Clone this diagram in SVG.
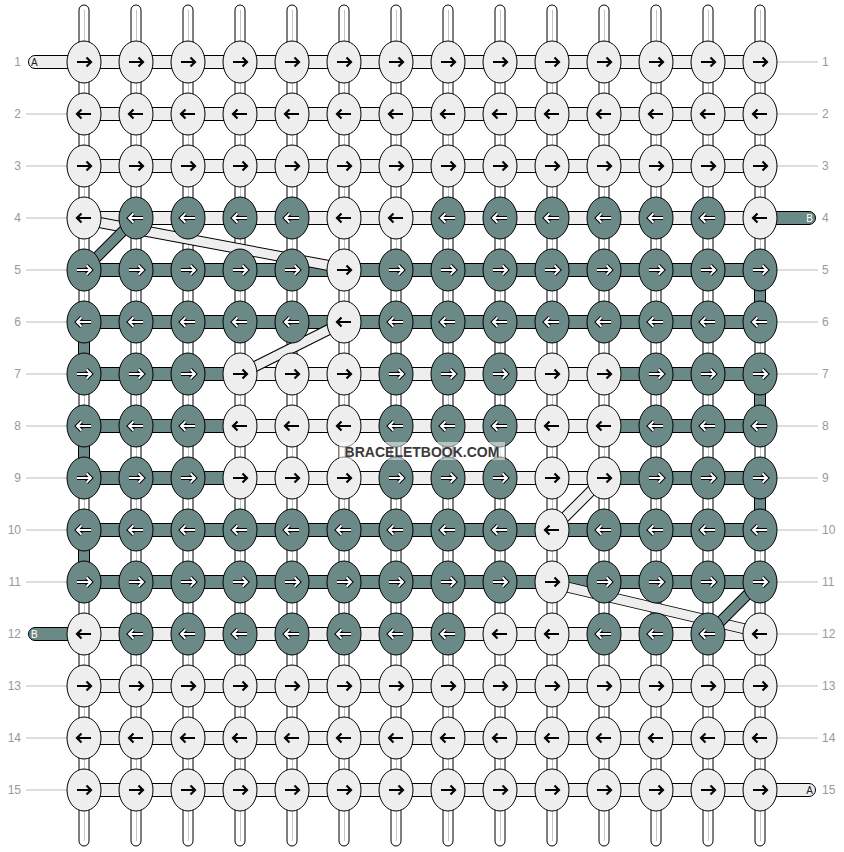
<svg xmlns="http://www.w3.org/2000/svg" xmlns:xlink="http://www.w3.org/1999/xlink" width="844" height="852" viewBox="0 0 844 852">
<style>
.vs{fill:#fff;stroke:#000;stroke-width:1}
.vc{stroke:#c4c4c4;stroke-width:1}
.hl{fill:#eeeeee;stroke:#000;stroke-width:1}
.hd{fill:#6b8a87;stroke:#000;stroke-width:1}
ellipse{rx:17px;ry:21px;stroke:#000;stroke-width:1}
.L{fill:#eeeeee}
.D{fill:#6b8a87}
.lbl{font-family:"Liberation Sans",Arial,sans-serif;font-size:12px;fill:#999}
.gl{stroke:#bbb;stroke-width:1}
.bo{stroke:#000;stroke-width:11}
.bl{stroke:#eeeeee;stroke-width:9}
.bd{stroke:#6b8a87;stroke-width:9}
.ltr{font-family:"Liberation Sans",Arial,sans-serif;font-size:10px}
</style>
<defs>
<g id="aR"><path d="M-7,0H6.5M2.5,-4.5L7,0L2.5,4.5" fill="none" stroke="#000" stroke-width="2.2"/></g>
<g id="aL"><path d="M7,0H-6.5M-2.5,-4.5L-7,0L-2.5,4.5" fill="none" stroke="#000" stroke-width="2.2"/></g>
<g id="wR"><path d="M-7,0H6.5M2.5,-4.5L7,0L2.5,4.5" fill="none" stroke="#000" stroke-width="4"/><path d="M-7,0H6.5M2.5,-4.5L7,0L2.5,4.5" fill="none" stroke="#fff" stroke-width="2"/></g>
<g id="wL"><path d="M7,0H-6.5M-2.5,-4.5L-7,0L-2.5,4.5" fill="none" stroke="#000" stroke-width="4"/><path d="M7,0H-6.5M-2.5,-4.5L-7,0L-2.5,4.5" fill="none" stroke="#fff" stroke-width="2"/></g>
</defs>
<rect width="844" height="852" fill="#fff"/>
<g id="labels">
<line class="gl" x1="26" y1="114" x2="84" y2="114"/><line class="gl" x1="26" y1="166" x2="84" y2="166"/><line class="gl" x1="26" y1="218" x2="84" y2="218"/><line class="gl" x1="26" y1="270" x2="84" y2="270"/><line class="gl" x1="26" y1="322" x2="84" y2="322"/><line class="gl" x1="26" y1="374" x2="84" y2="374"/><line class="gl" x1="26" y1="426" x2="84" y2="426"/><line class="gl" x1="26" y1="478" x2="84" y2="478"/><line class="gl" x1="26" y1="530" x2="84" y2="530"/><line class="gl" x1="26" y1="582" x2="84" y2="582"/><line class="gl" x1="26" y1="686" x2="84" y2="686"/><line class="gl" x1="26" y1="738" x2="84" y2="738"/><line class="gl" x1="26" y1="790" x2="84" y2="790"/>
<line class="gl" x1="760" y1="62" x2="818" y2="62"/><line class="gl" x1="760" y1="114" x2="818" y2="114"/><line class="gl" x1="760" y1="166" x2="818" y2="166"/><line class="gl" x1="760" y1="270" x2="818" y2="270"/><line class="gl" x1="760" y1="322" x2="818" y2="322"/><line class="gl" x1="760" y1="374" x2="818" y2="374"/><line class="gl" x1="760" y1="426" x2="818" y2="426"/><line class="gl" x1="760" y1="478" x2="818" y2="478"/><line class="gl" x1="760" y1="530" x2="818" y2="530"/><line class="gl" x1="760" y1="582" x2="818" y2="582"/><line class="gl" x1="760" y1="634" x2="818" y2="634"/><line class="gl" x1="760" y1="686" x2="818" y2="686"/><line class="gl" x1="760" y1="738" x2="818" y2="738"/>
<g class="lbl" text-anchor="end">
<text x="21" y="66">1</text><text x="21" y="118">2</text><text x="21" y="170">3</text><text x="21" y="222">4</text><text x="21" y="274">5</text><text x="21" y="326">6</text><text x="21" y="378">7</text><text x="21" y="430">8</text><text x="21" y="482">9</text><text x="21" y="534">10</text><text x="21" y="586">11</text><text x="21" y="638">12</text><text x="21" y="690">13</text><text x="21" y="742">14</text><text x="21" y="794">15</text>
</g>
<g class="lbl">
<text x="822" y="66">1</text><text x="822" y="118">2</text><text x="822" y="170">3</text><text x="822" y="222">4</text><text x="822" y="274">5</text><text x="822" y="326">6</text><text x="822" y="378">7</text><text x="822" y="430">8</text><text x="822" y="482">9</text><text x="822" y="534">10</text><text x="822" y="586">11</text><text x="822" y="638">12</text><text x="822" y="690">13</text><text x="822" y="742">14</text><text x="822" y="794">15</text>
</g>
</g>
<g id="connectors">
<g id="verticals">
<rect class="vs" x="79" y="5" width="10" height="841" rx="5"/><line class="vc" x1="84.5" y1="10" x2="84.5" y2="841"/>
<rect class="vs" x="131" y="5" width="10" height="841" rx="5"/><line class="vc" x1="136.5" y1="10" x2="136.5" y2="841"/>
<rect class="vs" x="183" y="5" width="10" height="841" rx="5"/><line class="vc" x1="188.5" y1="10" x2="188.5" y2="841"/>
<rect class="vs" x="235" y="5" width="10" height="841" rx="5"/><line class="vc" x1="240.5" y1="10" x2="240.5" y2="841"/>
<rect class="vs" x="287" y="5" width="10" height="841" rx="5"/><line class="vc" x1="292.5" y1="10" x2="292.5" y2="841"/>
<rect class="vs" x="339" y="5" width="10" height="841" rx="5"/><line class="vc" x1="344.5" y1="10" x2="344.5" y2="841"/>
<rect class="vs" x="391" y="5" width="10" height="841" rx="5"/><line class="vc" x1="396.5" y1="10" x2="396.5" y2="841"/>
<rect class="vs" x="443" y="5" width="10" height="841" rx="5"/><line class="vc" x1="448.5" y1="10" x2="448.5" y2="841"/>
<rect class="vs" x="495" y="5" width="10" height="841" rx="5"/><line class="vc" x1="500.5" y1="10" x2="500.5" y2="841"/>
<rect class="vs" x="547" y="5" width="10" height="841" rx="5"/><line class="vc" x1="552.5" y1="10" x2="552.5" y2="841"/>
<rect class="vs" x="599" y="5" width="10" height="841" rx="5"/><line class="vc" x1="604.5" y1="10" x2="604.5" y2="841"/>
<rect class="vs" x="651" y="5" width="10" height="841" rx="5"/><line class="vc" x1="656.5" y1="10" x2="656.5" y2="841"/>
<rect class="vs" x="703" y="5" width="10" height="841" rx="5"/><line class="vc" x1="708.5" y1="10" x2="708.5" y2="841"/>
<rect class="vs" x="755" y="5" width="10" height="841" rx="5"/><line class="vc" x1="760.5" y1="10" x2="760.5" y2="841"/>
</g>
<g id="leads">
<rect class="hl" x="28.5" y="55.5" width="60" height="13" rx="6.5"/>
<rect class="hd" x="28.5" y="627.5" width="60" height="13" rx="6.5"/>
<rect class="hd" x="755.5" y="211.5" width="60" height="13" rx="6.5"/>
<rect class="hl" x="755.5" y="783.5" width="60" height="13" rx="6.5"/>
<text class="ltr" x="31" y="66" fill="#222">A</text>
<text class="ltr" x="31" y="638" fill="#fff">B</text>
<text class="ltr" x="813" y="222" fill="#fff" text-anchor="end">B</text>
<text class="ltr" x="813" y="794" fill="#222" text-anchor="end">A</text>
</g>
<g id="rows">
<rect class="hl" x="84" y="55.5" width="676" height="13"/>
<rect class="hl" x="84" y="107.5" width="676" height="13"/>
<rect class="hl" x="84" y="159.5" width="676" height="13"/>
<rect class="hl" x="84" y="211.5" width="676" height="13"/>
<rect class="hd" x="84" y="263.5" width="676" height="13"/>
<rect class="hd" x="84" y="315.5" width="676" height="13"/>
<rect class="hd" x="84" y="367.5" width="156" height="13"/><rect class="hl" x="240" y="367.5" width="364" height="13"/><rect class="hd" x="604" y="367.5" width="156" height="13"/>
<rect class="hd" x="84" y="419.5" width="156" height="13"/><rect class="hl" x="240" y="419.5" width="364" height="13"/><rect class="hd" x="604" y="419.5" width="156" height="13"/>
<rect class="hd" x="84" y="471.5" width="156" height="13"/><rect class="hl" x="240" y="471.5" width="364" height="13"/><rect class="hd" x="604" y="471.5" width="156" height="13"/>
<rect class="hd" x="84" y="523.5" width="676" height="13"/>
<rect class="hd" x="84" y="575.5" width="676" height="13"/>
<rect class="hl" x="84" y="627.5" width="676" height="13"/>
<rect class="hl" x="84" y="679.5" width="676" height="13"/>
<rect class="hl" x="84" y="731.5" width="676" height="13"/>
<rect class="hl" x="84" y="783.5" width="676" height="13"/>
</g>
<g id="edges">
<rect class="hd" x="78.5" y="322" width="11" height="52"/>
<rect class="hd" x="78.5" y="426" width="11" height="52"/>
<rect class="hd" x="78.5" y="530" width="11" height="52"/>
<rect class="hd" x="754.5" y="270" width="11" height="52"/>
<rect class="hd" x="754.5" y="374" width="11" height="52"/>
<rect class="hd" x="754.5" y="478" width="11" height="52"/>
</g>
<g id="bands">
<line class="bo" x1="86" y1="220" x2="342" y2="268"/><line class="bl" x1="86" y1="220" x2="342" y2="268"/>
<line class="bo" x1="344" y1="322" x2="240" y2="374"/><line class="bl" x1="344" y1="322" x2="240" y2="374"/>
<line class="bo" x1="604" y1="478" x2="552" y2="530"/><line class="bl" x1="604" y1="478" x2="552" y2="530"/>
<line class="bo" x1="554" y1="584" x2="758" y2="632"/><line class="bl" x1="554" y1="584" x2="758" y2="632"/>
<line class="bo" x1="84" y1="270" x2="136" y2="218"/><line class="bd" x1="84" y1="270" x2="136" y2="218"/>
<line class="bo" x1="760" y1="582" x2="708" y2="634"/><line class="bd" x1="760" y1="582" x2="708" y2="634"/>
</g>
</g>
<g id="nodes">
<g id="r1c1"><ellipse class="L" cx="84" cy="62"/><use href="#aR" x="84" y="62"/></g>
<g id="r1c2"><ellipse class="L" cx="136" cy="62"/><use href="#aR" x="136" y="62"/></g>
<g id="r1c3"><ellipse class="L" cx="188" cy="62"/><use href="#aR" x="188" y="62"/></g>
<g id="r1c4"><ellipse class="L" cx="240" cy="62"/><use href="#aR" x="240" y="62"/></g>
<g id="r1c5"><ellipse class="L" cx="292" cy="62"/><use href="#aR" x="292" y="62"/></g>
<g id="r1c6"><ellipse class="L" cx="344" cy="62"/><use href="#aR" x="344" y="62"/></g>
<g id="r1c7"><ellipse class="L" cx="396" cy="62"/><use href="#aR" x="396" y="62"/></g>
<g id="r1c8"><ellipse class="L" cx="448" cy="62"/><use href="#aR" x="448" y="62"/></g>
<g id="r1c9"><ellipse class="L" cx="500" cy="62"/><use href="#aR" x="500" y="62"/></g>
<g id="r1c10"><ellipse class="L" cx="552" cy="62"/><use href="#aR" x="552" y="62"/></g>
<g id="r1c11"><ellipse class="L" cx="604" cy="62"/><use href="#aR" x="604" y="62"/></g>
<g id="r1c12"><ellipse class="L" cx="656" cy="62"/><use href="#aR" x="656" y="62"/></g>
<g id="r1c13"><ellipse class="L" cx="708" cy="62"/><use href="#aR" x="708" y="62"/></g>
<g id="r1c14"><ellipse class="L" cx="760" cy="62"/><use href="#aR" x="760" y="62"/></g>

<g id="r2c1"><ellipse class="L" cx="84" cy="114"/><use href="#aL" x="84" y="114"/></g>
<g id="r2c2"><ellipse class="L" cx="136" cy="114"/><use href="#aL" x="136" y="114"/></g>
<g id="r2c3"><ellipse class="L" cx="188" cy="114"/><use href="#aL" x="188" y="114"/></g>
<g id="r2c4"><ellipse class="L" cx="240" cy="114"/><use href="#aL" x="240" y="114"/></g>
<g id="r2c5"><ellipse class="L" cx="292" cy="114"/><use href="#aL" x="292" y="114"/></g>
<g id="r2c6"><ellipse class="L" cx="344" cy="114"/><use href="#aL" x="344" y="114"/></g>
<g id="r2c7"><ellipse class="L" cx="396" cy="114"/><use href="#aL" x="396" y="114"/></g>
<g id="r2c8"><ellipse class="L" cx="448" cy="114"/><use href="#aL" x="448" y="114"/></g>
<g id="r2c9"><ellipse class="L" cx="500" cy="114"/><use href="#aL" x="500" y="114"/></g>
<g id="r2c10"><ellipse class="L" cx="552" cy="114"/><use href="#aL" x="552" y="114"/></g>
<g id="r2c11"><ellipse class="L" cx="604" cy="114"/><use href="#aL" x="604" y="114"/></g>
<g id="r2c12"><ellipse class="L" cx="656" cy="114"/><use href="#aL" x="656" y="114"/></g>
<g id="r2c13"><ellipse class="L" cx="708" cy="114"/><use href="#aL" x="708" y="114"/></g>
<g id="r2c14"><ellipse class="L" cx="760" cy="114"/><use href="#aL" x="760" y="114"/></g>

<g id="r3c1"><ellipse class="L" cx="84" cy="166"/><use href="#aR" x="84" y="166"/></g>
<g id="r3c2"><ellipse class="L" cx="136" cy="166"/><use href="#aR" x="136" y="166"/></g>
<g id="r3c3"><ellipse class="L" cx="188" cy="166"/><use href="#aR" x="188" y="166"/></g>
<g id="r3c4"><ellipse class="L" cx="240" cy="166"/><use href="#aR" x="240" y="166"/></g>
<g id="r3c5"><ellipse class="L" cx="292" cy="166"/><use href="#aR" x="292" y="166"/></g>
<g id="r3c6"><ellipse class="L" cx="344" cy="166"/><use href="#aR" x="344" y="166"/></g>
<g id="r3c7"><ellipse class="L" cx="396" cy="166"/><use href="#aR" x="396" y="166"/></g>
<g id="r3c8"><ellipse class="L" cx="448" cy="166"/><use href="#aR" x="448" y="166"/></g>
<g id="r3c9"><ellipse class="L" cx="500" cy="166"/><use href="#aR" x="500" y="166"/></g>
<g id="r3c10"><ellipse class="L" cx="552" cy="166"/><use href="#aR" x="552" y="166"/></g>
<g id="r3c11"><ellipse class="L" cx="604" cy="166"/><use href="#aR" x="604" y="166"/></g>
<g id="r3c12"><ellipse class="L" cx="656" cy="166"/><use href="#aR" x="656" y="166"/></g>
<g id="r3c13"><ellipse class="L" cx="708" cy="166"/><use href="#aR" x="708" y="166"/></g>
<g id="r3c14"><ellipse class="L" cx="760" cy="166"/><use href="#aR" x="760" y="166"/></g>

<g id="r4c1"><ellipse class="L" cx="84" cy="218"/><use href="#aL" x="84" y="218"/></g>
<g id="r4c2"><ellipse class="D" cx="136" cy="218"/><use href="#wL" x="136" y="218"/></g>
<g id="r4c3"><ellipse class="D" cx="188" cy="218"/><use href="#wL" x="188" y="218"/></g>
<g id="r4c4"><ellipse class="D" cx="240" cy="218"/><use href="#wL" x="240" y="218"/></g>
<g id="r4c5"><ellipse class="D" cx="292" cy="218"/><use href="#wL" x="292" y="218"/></g>
<g id="r4c6"><ellipse class="L" cx="344" cy="218"/><use href="#aL" x="344" y="218"/></g>
<g id="r4c7"><ellipse class="L" cx="396" cy="218"/><use href="#aL" x="396" y="218"/></g>
<g id="r4c8"><ellipse class="D" cx="448" cy="218"/><use href="#wL" x="448" y="218"/></g>
<g id="r4c9"><ellipse class="D" cx="500" cy="218"/><use href="#wL" x="500" y="218"/></g>
<g id="r4c10"><ellipse class="D" cx="552" cy="218"/><use href="#wL" x="552" y="218"/></g>
<g id="r4c11"><ellipse class="D" cx="604" cy="218"/><use href="#wL" x="604" y="218"/></g>
<g id="r4c12"><ellipse class="D" cx="656" cy="218"/><use href="#wL" x="656" y="218"/></g>
<g id="r4c13"><ellipse class="D" cx="708" cy="218"/><use href="#wL" x="708" y="218"/></g>
<g id="r4c14"><ellipse class="L" cx="760" cy="218"/><use href="#aL" x="760" y="218"/></g>

<g id="r5c1"><ellipse class="D" cx="84" cy="270"/><use href="#wR" x="84" y="270"/></g>
<g id="r5c2"><ellipse class="D" cx="136" cy="270"/><use href="#wR" x="136" y="270"/></g>
<g id="r5c3"><ellipse class="D" cx="188" cy="270"/><use href="#wR" x="188" y="270"/></g>
<g id="r5c4"><ellipse class="D" cx="240" cy="270"/><use href="#wR" x="240" y="270"/></g>
<g id="r5c5"><ellipse class="D" cx="292" cy="270"/><use href="#wR" x="292" y="270"/></g>
<g id="r5c6"><ellipse class="L" cx="344" cy="270"/><use href="#aR" x="344" y="270"/></g>
<g id="r5c7"><ellipse class="D" cx="396" cy="270"/><use href="#wR" x="396" y="270"/></g>
<g id="r5c8"><ellipse class="D" cx="448" cy="270"/><use href="#wR" x="448" y="270"/></g>
<g id="r5c9"><ellipse class="D" cx="500" cy="270"/><use href="#wR" x="500" y="270"/></g>
<g id="r5c10"><ellipse class="D" cx="552" cy="270"/><use href="#wR" x="552" y="270"/></g>
<g id="r5c11"><ellipse class="D" cx="604" cy="270"/><use href="#wR" x="604" y="270"/></g>
<g id="r5c12"><ellipse class="D" cx="656" cy="270"/><use href="#wR" x="656" y="270"/></g>
<g id="r5c13"><ellipse class="D" cx="708" cy="270"/><use href="#wR" x="708" y="270"/></g>
<g id="r5c14"><ellipse class="D" cx="760" cy="270"/><use href="#wR" x="760" y="270"/></g>

<g id="r6c1"><ellipse class="D" cx="84" cy="322"/><use href="#wL" x="84" y="322"/></g>
<g id="r6c2"><ellipse class="D" cx="136" cy="322"/><use href="#wL" x="136" y="322"/></g>
<g id="r6c3"><ellipse class="D" cx="188" cy="322"/><use href="#wL" x="188" y="322"/></g>
<g id="r6c4"><ellipse class="D" cx="240" cy="322"/><use href="#wL" x="240" y="322"/></g>
<g id="r6c5"><ellipse class="D" cx="292" cy="322"/><use href="#wL" x="292" y="322"/></g>
<g id="r6c6"><ellipse class="L" cx="344" cy="322"/><use href="#aL" x="344" y="322"/></g>
<g id="r6c7"><ellipse class="D" cx="396" cy="322"/><use href="#wL" x="396" y="322"/></g>
<g id="r6c8"><ellipse class="D" cx="448" cy="322"/><use href="#wL" x="448" y="322"/></g>
<g id="r6c9"><ellipse class="D" cx="500" cy="322"/><use href="#wL" x="500" y="322"/></g>
<g id="r6c10"><ellipse class="D" cx="552" cy="322"/><use href="#wL" x="552" y="322"/></g>
<g id="r6c11"><ellipse class="D" cx="604" cy="322"/><use href="#wL" x="604" y="322"/></g>
<g id="r6c12"><ellipse class="D" cx="656" cy="322"/><use href="#wL" x="656" y="322"/></g>
<g id="r6c13"><ellipse class="D" cx="708" cy="322"/><use href="#wL" x="708" y="322"/></g>
<g id="r6c14"><ellipse class="D" cx="760" cy="322"/><use href="#wL" x="760" y="322"/></g>

<g id="r7c1"><ellipse class="D" cx="84" cy="374"/><use href="#wR" x="84" y="374"/></g>
<g id="r7c2"><ellipse class="D" cx="136" cy="374"/><use href="#wR" x="136" y="374"/></g>
<g id="r7c3"><ellipse class="D" cx="188" cy="374"/><use href="#wR" x="188" y="374"/></g>
<g id="r7c4"><ellipse class="L" cx="240" cy="374"/><use href="#aR" x="240" y="374"/></g>
<g id="r7c5"><ellipse class="L" cx="292" cy="374"/><use href="#aR" x="292" y="374"/></g>
<g id="r7c6"><ellipse class="L" cx="344" cy="374"/><use href="#aR" x="344" y="374"/></g>
<g id="r7c7"><ellipse class="D" cx="396" cy="374"/><use href="#wR" x="396" y="374"/></g>
<g id="r7c8"><ellipse class="D" cx="448" cy="374"/><use href="#wR" x="448" y="374"/></g>
<g id="r7c9"><ellipse class="D" cx="500" cy="374"/><use href="#wR" x="500" y="374"/></g>
<g id="r7c10"><ellipse class="L" cx="552" cy="374"/><use href="#aR" x="552" y="374"/></g>
<g id="r7c11"><ellipse class="L" cx="604" cy="374"/><use href="#aR" x="604" y="374"/></g>
<g id="r7c12"><ellipse class="D" cx="656" cy="374"/><use href="#wR" x="656" y="374"/></g>
<g id="r7c13"><ellipse class="D" cx="708" cy="374"/><use href="#wR" x="708" y="374"/></g>
<g id="r7c14"><ellipse class="D" cx="760" cy="374"/><use href="#wR" x="760" y="374"/></g>

<g id="r8c1"><ellipse class="D" cx="84" cy="426"/><use href="#wL" x="84" y="426"/></g>
<g id="r8c2"><ellipse class="D" cx="136" cy="426"/><use href="#wL" x="136" y="426"/></g>
<g id="r8c3"><ellipse class="D" cx="188" cy="426"/><use href="#wL" x="188" y="426"/></g>
<g id="r8c4"><ellipse class="L" cx="240" cy="426"/><use href="#aL" x="240" y="426"/></g>
<g id="r8c5"><ellipse class="L" cx="292" cy="426"/><use href="#aL" x="292" y="426"/></g>
<g id="r8c6"><ellipse class="L" cx="344" cy="426"/><use href="#aL" x="344" y="426"/></g>
<g id="r8c7"><ellipse class="D" cx="396" cy="426"/><use href="#wL" x="396" y="426"/></g>
<g id="r8c8"><ellipse class="D" cx="448" cy="426"/><use href="#wL" x="448" y="426"/></g>
<g id="r8c9"><ellipse class="D" cx="500" cy="426"/><use href="#wL" x="500" y="426"/></g>
<g id="r8c10"><ellipse class="L" cx="552" cy="426"/><use href="#aL" x="552" y="426"/></g>
<g id="r8c11"><ellipse class="L" cx="604" cy="426"/><use href="#aL" x="604" y="426"/></g>
<g id="r8c12"><ellipse class="D" cx="656" cy="426"/><use href="#wL" x="656" y="426"/></g>
<g id="r8c13"><ellipse class="D" cx="708" cy="426"/><use href="#wL" x="708" y="426"/></g>
<g id="r8c14"><ellipse class="D" cx="760" cy="426"/><use href="#wL" x="760" y="426"/></g>

<g id="r9c1"><ellipse class="D" cx="84" cy="478"/><use href="#wR" x="84" y="478"/></g>
<g id="r9c2"><ellipse class="D" cx="136" cy="478"/><use href="#wR" x="136" y="478"/></g>
<g id="r9c3"><ellipse class="D" cx="188" cy="478"/><use href="#wR" x="188" y="478"/></g>
<g id="r9c4"><ellipse class="L" cx="240" cy="478"/><use href="#aR" x="240" y="478"/></g>
<g id="r9c5"><ellipse class="L" cx="292" cy="478"/><use href="#aR" x="292" y="478"/></g>
<g id="r9c6"><ellipse class="L" cx="344" cy="478"/><use href="#aR" x="344" y="478"/></g>
<g id="r9c7"><ellipse class="D" cx="396" cy="478"/><use href="#wR" x="396" y="478"/></g>
<g id="r9c8"><ellipse class="D" cx="448" cy="478"/><use href="#wR" x="448" y="478"/></g>
<g id="r9c9"><ellipse class="D" cx="500" cy="478"/><use href="#wR" x="500" y="478"/></g>
<g id="r9c10"><ellipse class="L" cx="552" cy="478"/><use href="#aR" x="552" y="478"/></g>
<g id="r9c11"><ellipse class="L" cx="604" cy="478"/><use href="#aR" x="604" y="478"/></g>
<g id="r9c12"><ellipse class="D" cx="656" cy="478"/><use href="#wR" x="656" y="478"/></g>
<g id="r9c13"><ellipse class="D" cx="708" cy="478"/><use href="#wR" x="708" y="478"/></g>
<g id="r9c14"><ellipse class="D" cx="760" cy="478"/><use href="#wR" x="760" y="478"/></g>

<g id="r10c1"><ellipse class="D" cx="84" cy="530"/><use href="#wL" x="84" y="530"/></g>
<g id="r10c2"><ellipse class="D" cx="136" cy="530"/><use href="#wL" x="136" y="530"/></g>
<g id="r10c3"><ellipse class="D" cx="188" cy="530"/><use href="#wL" x="188" y="530"/></g>
<g id="r10c4"><ellipse class="D" cx="240" cy="530"/><use href="#wL" x="240" y="530"/></g>
<g id="r10c5"><ellipse class="D" cx="292" cy="530"/><use href="#wL" x="292" y="530"/></g>
<g id="r10c6"><ellipse class="D" cx="344" cy="530"/><use href="#wL" x="344" y="530"/></g>
<g id="r10c7"><ellipse class="D" cx="396" cy="530"/><use href="#wL" x="396" y="530"/></g>
<g id="r10c8"><ellipse class="D" cx="448" cy="530"/><use href="#wL" x="448" y="530"/></g>
<g id="r10c9"><ellipse class="D" cx="500" cy="530"/><use href="#wL" x="500" y="530"/></g>
<g id="r10c10"><ellipse class="L" cx="552" cy="530"/><use href="#aL" x="552" y="530"/></g>
<g id="r10c11"><ellipse class="D" cx="604" cy="530"/><use href="#wL" x="604" y="530"/></g>
<g id="r10c12"><ellipse class="D" cx="656" cy="530"/><use href="#wL" x="656" y="530"/></g>
<g id="r10c13"><ellipse class="D" cx="708" cy="530"/><use href="#wL" x="708" y="530"/></g>
<g id="r10c14"><ellipse class="D" cx="760" cy="530"/><use href="#wL" x="760" y="530"/></g>

<g id="r11c1"><ellipse class="D" cx="84" cy="582"/><use href="#wR" x="84" y="582"/></g>
<g id="r11c2"><ellipse class="D" cx="136" cy="582"/><use href="#wR" x="136" y="582"/></g>
<g id="r11c3"><ellipse class="D" cx="188" cy="582"/><use href="#wR" x="188" y="582"/></g>
<g id="r11c4"><ellipse class="D" cx="240" cy="582"/><use href="#wR" x="240" y="582"/></g>
<g id="r11c5"><ellipse class="D" cx="292" cy="582"/><use href="#wR" x="292" y="582"/></g>
<g id="r11c6"><ellipse class="D" cx="344" cy="582"/><use href="#wR" x="344" y="582"/></g>
<g id="r11c7"><ellipse class="D" cx="396" cy="582"/><use href="#wR" x="396" y="582"/></g>
<g id="r11c8"><ellipse class="D" cx="448" cy="582"/><use href="#wR" x="448" y="582"/></g>
<g id="r11c9"><ellipse class="D" cx="500" cy="582"/><use href="#wR" x="500" y="582"/></g>
<g id="r11c10"><ellipse class="L" cx="552" cy="582"/><use href="#aR" x="552" y="582"/></g>
<g id="r11c11"><ellipse class="D" cx="604" cy="582"/><use href="#wR" x="604" y="582"/></g>
<g id="r11c12"><ellipse class="D" cx="656" cy="582"/><use href="#wR" x="656" y="582"/></g>
<g id="r11c13"><ellipse class="D" cx="708" cy="582"/><use href="#wR" x="708" y="582"/></g>
<g id="r11c14"><ellipse class="D" cx="760" cy="582"/><use href="#wR" x="760" y="582"/></g>

<g id="r12c1"><ellipse class="L" cx="84" cy="634"/><use href="#aL" x="84" y="634"/></g>
<g id="r12c2"><ellipse class="D" cx="136" cy="634"/><use href="#wL" x="136" y="634"/></g>
<g id="r12c3"><ellipse class="D" cx="188" cy="634"/><use href="#wL" x="188" y="634"/></g>
<g id="r12c4"><ellipse class="D" cx="240" cy="634"/><use href="#wL" x="240" y="634"/></g>
<g id="r12c5"><ellipse class="D" cx="292" cy="634"/><use href="#wL" x="292" y="634"/></g>
<g id="r12c6"><ellipse class="D" cx="344" cy="634"/><use href="#wL" x="344" y="634"/></g>
<g id="r12c7"><ellipse class="D" cx="396" cy="634"/><use href="#wL" x="396" y="634"/></g>
<g id="r12c8"><ellipse class="D" cx="448" cy="634"/><use href="#wL" x="448" y="634"/></g>
<g id="r12c9"><ellipse class="L" cx="500" cy="634"/><use href="#aL" x="500" y="634"/></g>
<g id="r12c10"><ellipse class="L" cx="552" cy="634"/><use href="#aL" x="552" y="634"/></g>
<g id="r12c11"><ellipse class="D" cx="604" cy="634"/><use href="#wL" x="604" y="634"/></g>
<g id="r12c12"><ellipse class="D" cx="656" cy="634"/><use href="#wL" x="656" y="634"/></g>
<g id="r12c13"><ellipse class="D" cx="708" cy="634"/><use href="#wL" x="708" y="634"/></g>
<g id="r12c14"><ellipse class="L" cx="760" cy="634"/><use href="#aL" x="760" y="634"/></g>

<g id="r13c1"><ellipse class="L" cx="84" cy="686"/><use href="#aR" x="84" y="686"/></g>
<g id="r13c2"><ellipse class="L" cx="136" cy="686"/><use href="#aR" x="136" y="686"/></g>
<g id="r13c3"><ellipse class="L" cx="188" cy="686"/><use href="#aR" x="188" y="686"/></g>
<g id="r13c4"><ellipse class="L" cx="240" cy="686"/><use href="#aR" x="240" y="686"/></g>
<g id="r13c5"><ellipse class="L" cx="292" cy="686"/><use href="#aR" x="292" y="686"/></g>
<g id="r13c6"><ellipse class="L" cx="344" cy="686"/><use href="#aR" x="344" y="686"/></g>
<g id="r13c7"><ellipse class="L" cx="396" cy="686"/><use href="#aR" x="396" y="686"/></g>
<g id="r13c8"><ellipse class="L" cx="448" cy="686"/><use href="#aR" x="448" y="686"/></g>
<g id="r13c9"><ellipse class="L" cx="500" cy="686"/><use href="#aR" x="500" y="686"/></g>
<g id="r13c10"><ellipse class="L" cx="552" cy="686"/><use href="#aR" x="552" y="686"/></g>
<g id="r13c11"><ellipse class="L" cx="604" cy="686"/><use href="#aR" x="604" y="686"/></g>
<g id="r13c12"><ellipse class="L" cx="656" cy="686"/><use href="#aR" x="656" y="686"/></g>
<g id="r13c13"><ellipse class="L" cx="708" cy="686"/><use href="#aR" x="708" y="686"/></g>
<g id="r13c14"><ellipse class="L" cx="760" cy="686"/><use href="#aR" x="760" y="686"/></g>

<g id="r14c1"><ellipse class="L" cx="84" cy="738"/><use href="#aL" x="84" y="738"/></g>
<g id="r14c2"><ellipse class="L" cx="136" cy="738"/><use href="#aL" x="136" y="738"/></g>
<g id="r14c3"><ellipse class="L" cx="188" cy="738"/><use href="#aL" x="188" y="738"/></g>
<g id="r14c4"><ellipse class="L" cx="240" cy="738"/><use href="#aL" x="240" y="738"/></g>
<g id="r14c5"><ellipse class="L" cx="292" cy="738"/><use href="#aL" x="292" y="738"/></g>
<g id="r14c6"><ellipse class="L" cx="344" cy="738"/><use href="#aL" x="344" y="738"/></g>
<g id="r14c7"><ellipse class="L" cx="396" cy="738"/><use href="#aL" x="396" y="738"/></g>
<g id="r14c8"><ellipse class="L" cx="448" cy="738"/><use href="#aL" x="448" y="738"/></g>
<g id="r14c9"><ellipse class="L" cx="500" cy="738"/><use href="#aL" x="500" y="738"/></g>
<g id="r14c10"><ellipse class="L" cx="552" cy="738"/><use href="#aL" x="552" y="738"/></g>
<g id="r14c11"><ellipse class="L" cx="604" cy="738"/><use href="#aL" x="604" y="738"/></g>
<g id="r14c12"><ellipse class="L" cx="656" cy="738"/><use href="#aL" x="656" y="738"/></g>
<g id="r14c13"><ellipse class="L" cx="708" cy="738"/><use href="#aL" x="708" y="738"/></g>
<g id="r14c14"><ellipse class="L" cx="760" cy="738"/><use href="#aL" x="760" y="738"/></g>

<g id="r15c1"><ellipse class="L" cx="84" cy="790"/><use href="#aR" x="84" y="790"/></g>
<g id="r15c2"><ellipse class="L" cx="136" cy="790"/><use href="#aR" x="136" y="790"/></g>
<g id="r15c3"><ellipse class="L" cx="188" cy="790"/><use href="#aR" x="188" y="790"/></g>
<g id="r15c4"><ellipse class="L" cx="240" cy="790"/><use href="#aR" x="240" y="790"/></g>
<g id="r15c5"><ellipse class="L" cx="292" cy="790"/><use href="#aR" x="292" y="790"/></g>
<g id="r15c6"><ellipse class="L" cx="344" cy="790"/><use href="#aR" x="344" y="790"/></g>
<g id="r15c7"><ellipse class="L" cx="396" cy="790"/><use href="#aR" x="396" y="790"/></g>
<g id="r15c8"><ellipse class="L" cx="448" cy="790"/><use href="#aR" x="448" y="790"/></g>
<g id="r15c9"><ellipse class="L" cx="500" cy="790"/><use href="#aR" x="500" y="790"/></g>
<g id="r15c10"><ellipse class="L" cx="552" cy="790"/><use href="#aR" x="552" y="790"/></g>
<g id="r15c11"><ellipse class="L" cx="604" cy="790"/><use href="#aR" x="604" y="790"/></g>
<g id="r15c12"><ellipse class="L" cx="656" cy="790"/><use href="#aR" x="656" y="790"/></g>
<g id="r15c13"><ellipse class="L" cx="708" cy="790"/><use href="#aR" x="708" y="790"/></g>
<g id="r15c14"><ellipse class="L" cx="760" cy="790"/><use href="#aR" x="760" y="790"/></g>
</g>
<g id="watermark">
<rect x="339" y="442" width="166" height="18" fill="#fff" fill-opacity="0.5"/>
<text x="422" y="457" text-anchor="middle" font-family="'Liberation Sans',Arial,sans-serif" font-weight="bold" font-size="14" fill="#3a3a3a">BRACELETBOOK.COM</text>
</g>
</svg>
